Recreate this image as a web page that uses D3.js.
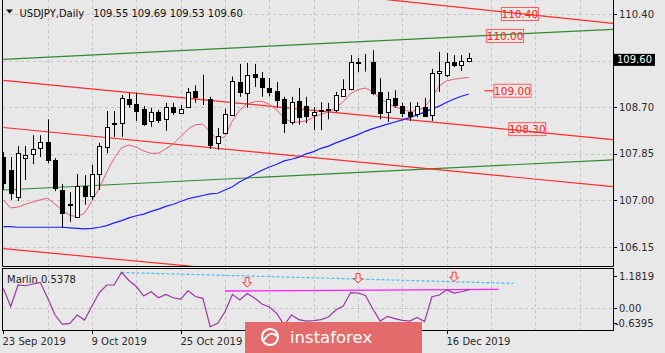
<!DOCTYPE html>
<html>
<head>
<meta charset="utf-8">
<script src="https://cdn.jsdelivr.net/npm/d3@7"></script>
<style>
html, body { margin: 0; padding: 0; background: #e8e8e8; }
svg { display: block; font-family: "DejaVu Sans", sans-serif; }
</style>
</head>
<body>
<div id="main"></div>
<script>
const W = 665;
const H = 353;

// daily bars, 23 Sep 2019 (index 0) .. 19 Dec 2019 (index 63)
const openP = [107.79,107.55,107.06,107.77,107.85,107.96,108.07,107.74,107.19,106.93,
    106.70,107.26,107.08,107.48,107.97,108.39,108.41,108.85,108.76,108.67,
    108.45,108.61,108.48,108.70,108.60,108.71,109.00,108.89,108.85,108.05,
    108.23,108.56,109.16,108.96,109.31,109.23,109.05,109.00,108.85,108.43,
    108.81,108.72,108.56,108.63,108.65,108.65,108.90,109.03,109.52,109.51,
    109.52,108.98,108.61,108.87,108.72,108.61,108.58,108.70,108.56,109.32,
    109.29,109.52,109.47,109.55];
const highP = [107.88,107.79,107.99,107.99,108.19,108.19,108.48,107.77,107.30,107.15,
    107.48,107.46,107.65,108.05,108.63,108.63,108.92,108.96,108.96,108.72,
    108.69,108.65,108.78,108.78,108.74,109.05,109.10,109.29,108.89,108.32,
    108.67,109.26,109.49,109.51,109.49,109.34,109.23,109.16,108.89,108.89,
    109.05,108.89,108.70,108.79,108.78,108.98,109.21,109.65,109.60,109.67,
    109.74,109.23,108.98,109.01,108.78,108.79,108.79,108.87,109.40,109.71,
    109.69,109.65,109.65,109.69];
const lowP = [107.19,107.01,106.99,107.37,107.66,107.79,107.68,107.17,106.50,106.61,
    106.68,106.92,107.01,107.19,107.86,108.16,108.16,108.69,108.45,108.36,
    108.34,108.41,108.27,108.56,108.58,108.69,108.78,108.74,107.94,107.92,
    108.22,108.54,108.89,108.69,109.07,108.89,108.90,108.69,108.23,108.38,
    108.38,108.41,108.28,108.28,108.48,108.61,108.89,109.01,109.34,109.35,
    108.92,108.48,108.43,108.69,108.52,108.45,108.52,108.52,108.45,108.98,
    109.25,109.43,109.36,109.53];
const closeP = [107.32,107.13,107.86,107.83,107.94,108.07,107.74,107.23,106.77,106.92,
    107.26,107.08,107.48,107.99,108.34,108.41,108.87,108.76,108.63,108.39,
    108.61,108.47,108.70,108.61,108.66,108.98,108.89,108.88,108.01,108.17,
    108.57,109.18,108.98,109.29,109.25,109.07,108.98,108.83,108.41,108.79,
    108.52,108.54,108.61,108.64,108.66,108.92,109.03,109.52,109.51,109.50,
    108.96,108.59,108.85,108.74,108.59,108.54,108.72,108.54,109.32,109.36,
    109.52,109.47,109.54,109.60];

// moving averages
const maFast = [107.01,106.86,106.88,106.93,106.97,107.01,107.04,106.93,106.82,106.73,
    106.70,106.77,106.99,107.23,107.52,107.77,107.96,108.01,107.97,107.90,
    107.86,107.86,107.94,108.03,108.16,108.30,108.38,108.39,108.25,108.10,
    108.17,108.45,108.65,108.76,108.80,108.81,108.75,108.65,108.50,108.43,
    108.43,108.45,108.52,108.57,108.61,108.69,108.80,108.95,109.02,109.05,
    108.98,108.85,108.78,108.70,108.67,108.62,108.64,108.70,108.87,109.09,
    109.18,109.21,109.23,109.24];
const maSlow = [106.52,106.52,106.51,106.51,106.51,106.51,106.51,106.51,106.51,106.50,
    106.49,106.48,106.49,106.51,106.54,106.59,106.63,106.68,106.72,106.75,
    106.80,106.84,106.89,106.93,106.98,107.03,107.06,107.09,107.12,107.13,
    107.19,107.25,107.34,107.41,107.48,107.55,107.61,107.66,107.72,107.75,
    107.79,107.85,107.89,107.95,107.99,108.05,108.10,108.15,108.20,108.26,
    108.31,108.35,108.39,108.43,108.47,108.51,108.56,108.61,108.67,108.72,
    108.79,108.85,108.90,108.94];

// Marlin oscillator
const marlin = [0.579,0.050,0.682,0.661,0.711,0.761,0.300,-0.200,-0.474,-0.444,
    -0.200,-0.347,0.064,0.461,0.682,0.682,1.056,0.814,0.638,0.358,
    0.485,0.308,0.408,0.308,0.270,0.514,0.344,0.291,-0.544,-0.444,
    -0.103,0.408,0.241,0.432,0.300,0.123,0.035,-0.150,-0.494,-0.200,
    -0.333,-0.377,-0.362,-0.333,-0.259,-0.053,0.064,0.461,0.447,0.373,
    -0.024,-0.377,-0.239,-0.303,-0.356,-0.377,-0.268,-0.392,0.338,0.388,
    0.535,0.447,0.485,0.538];
const marlinMax = 1.1819;
const marlinMin = -0.6395;

// drawn objects: [bar0, price0, bar1, price1]
const redLines = [[40, 110.83, 82.5, 110.23], [0, 109.19, 82.5, 108.11],
    [0, 108.33, 82.5, 107.25], [0, 106.12, 82.5, 105.08]];
const greenLines = [[0, 109.574, 82.5, 110.121], [0, 107.19, 82.5, 107.74]];
const levelTexts = ["110.40", "110.00", "109.00", "108.30"];
const levelPrices = [110.40, 110.00, 109.00, 108.30];
const levelBars = [69.9, 67.9, 68.9, 70.9];

const cyanLine = [16, 1.05, 69, 0.73];
const magentaLine = [30, 0.506, 67, 0.555];
const arrowBars = [33, 48, 61];
const arrowVals = [0.62, 0.74, 0.78];

const priceTicks = [110.40, 109.55, 108.70, 107.85, 107.00, 106.15];
const dateTickBars = [0, 12, 24, 36, 48, 60];
const dateTickLabels = ["23 Sep 2019", "9 Oct 2019", "25 Oct 2019", "", "", "16 Dec 2019"];
const lastPrice = 109.60;
const titleText = "USDJPY,Daily";
const titleValues = "109.55 109.69 109.53 109.60";

// layout
const L = 3, R = 613;
const MAIN_B = 266;
const IND_T = 268, IND_B = 330;
const BG = "#e8e8e8";
const RED = "#ff2a2a", GREEN = "#2e8b2e";

const x = d3.scaleLinear().domain([0, 60]).range([3.3, 446.7]);
const y = d3.scaleLinear().domain([106.15, 110.40]).range([247, 14]);
const yi = d3.scaleLinear().domain([marlinMin, marlinMax]).range([IND_B, IND_T]);
const px = i => Math.round(x(i)) + 0.5;

const svg = d3.select("#main").append("svg")
    .attr("width", W).attr("height", H);
svg.append("rect").attr("width", W).attr("height", H).attr("fill", BG);

const defs = svg.append("defs");
defs.append("clipPath").attr("id", "clipMain").append("rect")
    .attr("x", L).attr("y", 0).attr("width", R - L).attr("height", MAIN_B);
defs.append("clipPath").attr("id", "clipInd").append("rect")
    .attr("x", L).attr("y", IND_T).attr("width", R - L).attr("height", IND_B - IND_T);

// grids
const grid = svg.append("g").attr("stroke", "#c4c4c4").attr("stroke-dasharray", "3,3");
d3.range(6, 79, 6).forEach(function (i) {
    grid.append("line").attr("x1", px(i)).attr("x2", px(i)).attr("y1", 0).attr("y2", MAIN_B);
    grid.append("line").attr("x1", px(i)).attr("x2", px(i)).attr("y1", IND_T).attr("y2", IND_B);
});
priceTicks.forEach(function (p) {
    const yy = Math.round(y(p)) + 0.5;
    grid.append("line").attr("x1", L).attr("x2", R).attr("y1", yy).attr("y2", yy);
});
grid.append("line").attr("x1", L).attr("x2", R)
    .attr("y1", Math.round(yi(0)) + 0.5).attr("y2", Math.round(yi(0)) + 0.5);

// main panel
const mainG = svg.append("g").attr("clip-path", "url(#clipMain)");

function drawTrend(g, d, color) {
    g.append("line")
        .attr("x1", x(d[0])).attr("y1", y(d[1]))
        .attr("x2", x(d[2])).attr("y2", y(d[3]))
        .attr("stroke", color).attr("stroke-width", 1.2);
}
greenLines.forEach(d => drawTrend(mainG, d, GREEN));
redLines.forEach(d => drawTrend(mainG, d, RED));

const lineGen = d3.line().x((d, i) => x(i)).y(d => y(d));
mainG.append("path").attr("d", lineGen(maSlow))
    .attr("fill", "none").attr("stroke", "#1f1fff").attr("stroke-width", 1.2);
mainG.append("path").attr("d", lineGen(maFast))
    .attr("fill", "none").attr("stroke", "#ea5c70").attr("stroke-width", 1);

// candles
const candles = mainG.append("g");
openP.forEach(function (o, i) {
    const c = closeP[i];
    const cx = px(i);
    candles.append("line")
        .attr("x1", cx).attr("x2", cx)
        .attr("y1", y(highP[i])).attr("y2", y(lowP[i]))
        .attr("stroke", "#000").attr("stroke-width", 1);
    const top = Math.round(y(Math.max(o, c)));
    const bot = Math.round(y(Math.min(o, c)));
    candles.append("rect")
        .attr("x", cx - 2).attr("y", top + 0.5)
        .attr("width", 4).attr("height", Math.max(bot - top, 0))
        .attr("fill", c >= o ? "#fff" : "#000")
        .attr("stroke", "#000").attr("stroke-width", 1);
});

// level labels
levelTexts.forEach(function (t, k) {
    const cx = x(levelBars[k]);
    const cy = y(levelPrices[k]);
    if (t === "109.00") {
        mainG.append("line").attr("x1", cx - 28).attr("x2", cx - 18.5)
            .attr("y1", cy).attr("y2", cy)
            .attr("stroke", "#ff5050").attr("stroke-width", 1.5);
    }
    mainG.append("rect")
        .attr("x", cx - 18.5).attr("y", cy - 6.5)
        .attr("width", 37).attr("height", 13)
        .attr("fill", "none").attr("stroke", "#ff5a5a").attr("stroke-width", 1);
    mainG.append("text")
        .attr("x", cx).attr("y", cy + 3.8)
        .attr("text-anchor", "middle")
        .attr("font-size", 10.5).attr("fill", "#ff2020")
        .text(t);
});

// title
svg.append("path").attr("d", "M6,9.5 L13,9.5 L9.5,13.5 Z").attr("fill", "#111");
svg.append("text").attr("x", 19.5).attr("y", 16.5)
    .attr("font-size", 10).attr("fill", "#111").text(titleText);
svg.append("text").attr("x", 93.3).attr("y", 16.5)
    .attr("font-size", 10).attr("fill", "#111").text(titleValues);

// indicator panel
const indG = svg.append("g").attr("clip-path", "url(#clipInd)");
indG.append("line")
    .attr("x1", x(cyanLine[0])).attr("y1", yi(cyanLine[1]))
    .attr("x2", x(cyanLine[2])).attr("y2", yi(cyanLine[3]))
    .attr("stroke", "#3cbff0").attr("stroke-width", 1.2).attr("stroke-dasharray", "3,2");
indG.append("line")
    .attr("x1", x(magentaLine[0])).attr("y1", yi(magentaLine[1]))
    .attr("x2", x(magentaLine[2])).attr("y2", yi(magentaLine[3]))
    .attr("stroke", "#ff1cff").attr("stroke-width", 1.3);
indG.append("path")
    .attr("d", d3.line().x((d, i) => x(i)).y(d => yi(d))(marlin))
    .attr("fill", "none").attr("stroke", "#9b35a6").attr("stroke-width", 1.2);
arrowBars.forEach(function (b, k) {
    const ax = x(b), ay = yi(arrowVals[k]);
    indG.append("path")
        .attr("transform", "translate(" + ax + "," + ay + ")")
        .attr("d", "M0,0 L-4.5,-4.5 L-2,-4.5 L-2,-9.5 L2,-9.5 L2,-4.5 L4.5,-4.5 Z")
        .attr("fill", "#f4dede").attr("stroke", "#ff3b3b").attr("stroke-width", 1);
});
svg.append("text").attr("x", 7).attr("y", 283)
    .attr("font-size", 10).attr("fill", "#222").text("Marlin 0.5378");

// frames
const frame = svg.append("g").attr("fill", "none").attr("stroke", "#000").attr("stroke-width", 1);
frame.append("path").attr("d", "M" + (L - 0.5) + ",0 V" + (MAIN_B + 0.5) + " H" + (R + 0.5) + " V0");
frame.append("rect").attr("x", L - 0.5).attr("y", IND_T + 0.5)
    .attr("width", R - L + 1).attr("height", IND_B - IND_T);

// price axis (the 109.55 label sits under the last-price box)
const axisG = svg.append("g").attr("font-size", 10).attr("fill", "#2a2a2a");
priceTicks.forEach(function (p) {
    const yy = Math.round(y(p)) + 0.5;
    svg.append("line").attr("x1", R).attr("x2", R + 4).attr("y1", yy).attr("y2", yy)
        .attr("stroke", "#000");
    if (Math.abs(p - lastPrice) > 0.2) {
        axisG.append("text").attr("x", 619).attr("y", y(p) + 3.6).text(p.toFixed(2));
    }
});
const lpY = y(lastPrice) + 2;
svg.append("rect").attr("x", 614).attr("y", lpY - 6).attr("width", 41).attr("height", 12)
    .attr("fill", "#000");
svg.append("text").attr("x", 617).attr("y", lpY + 3.6)
    .attr("font-size", 10).attr("fill", "#fff").text(lastPrice.toFixed(2));

// indicator axis
[[marlinMax, "1.1819"], [0, "0.00"], [marlinMin, "-0.6395"]].forEach(function (d) {
    const yy = Math.min(Math.max(yi(d[0]), IND_T + 8), IND_B - 7);
    svg.append("line").attr("x1", R).attr("x2", R + 4)
        .attr("y1", Math.round(yy) + 0.5).attr("y2", Math.round(yy) + 0.5).attr("stroke", "#000");
    axisG.append("text").attr("x", d[1][0] === "-" ? 615 : 619).attr("y", yy + 3.6).text(d[1]);
});

// date axis (labels 12 Nov / 28 Nov are hidden by the watermark)
dateTickBars.forEach(function (b, k) {
    svg.append("line").attr("x1", px(b)).attr("x2", px(b))
        .attr("y1", IND_B).attr("y2", IND_B + 4).attr("stroke", "#000");
    if (dateTickLabels[k]) {
        axisG.append("text").attr("x", px(b) - 1).attr("y", 345).text(dateTickLabels[k]);
    }
});

// watermark
const wm = svg.append("g");
wm.append("rect").attr("x", 245).attr("y", 322).attr("width", 177).attr("height", 31)
    .attr("fill", "#e46b6b");
wm.append("circle").attr("cx", 270).attr("cy", 337).attr("r", 8)
    .attr("fill", "none").attr("stroke", "#fff").attr("stroke-width", 2.2);
wm.append("path").attr("d", "M264,340 Q270,330 277,336")
    .attr("fill", "none").attr("stroke", "#fff").attr("stroke-width", 1.8);
wm.append("text").attr("x", 290).attr("y", 343)
    .attr("font-size", 16.5).attr("fill", "#fff").text("instaforex");
</script>
</body>
</html>
